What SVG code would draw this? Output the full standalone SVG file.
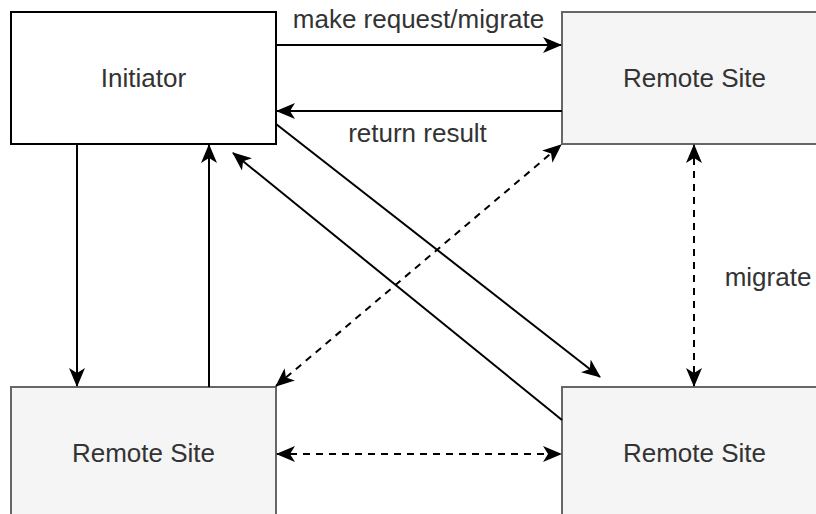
<svg xmlns="http://www.w3.org/2000/svg" width="816" height="514" viewBox="0 0 816 514">
  <style>
    .box { stroke-width: 2; }
    .init { fill: #ffffff; stroke: #000000; }
    .remote { fill: #f5f5f5; stroke: #666666; }
    .label { font-family: "Liberation Sans", Arial, sans-serif; font-size: 26px; fill: #333333; text-anchor: middle; }
    .edge { fill: none; stroke: #000000; stroke-width: 2; }
    .dash { stroke-dasharray: 7 6; }
  </style>
  <defs>
    <marker id="arrow" viewBox="0 0 19 16" refX="18" refY="8" markerWidth="19" markerHeight="16" markerUnits="userSpaceOnUse" orient="auto-start-reverse">
      <path d="M0,0 L19,8 L0,16 L5,8 Z" fill="#000000"/>
    </marker>
  </defs>

  <rect width="816" height="514" fill="#ffffff"/>

  <g id="initiator">
    <rect class="box init" x="11" y="12" width="265" height="132"/>
    <text class="label" x="143.5" y="87">Initiator</text>
  </g>
  <g id="remote-top-right">
    <rect class="box remote" x="562" y="12" width="265" height="132"/>
    <text class="label" x="694.5" y="87">Remote Site</text>
  </g>
  <g id="remote-bottom-left">
    <rect class="box remote" x="11" y="387" width="265" height="132"/>
    <text class="label" x="143.5" y="462">Remote Site</text>
  </g>
  <g id="remote-bottom-right">
    <rect class="box remote" x="562" y="387" width="265" height="132"/>
    <text class="label" x="694.5" y="462">Remote Site</text>
  </g>

  <g id="connectors">
    <!-- request / result between initiator and top-right site -->
    <line class="edge" x1="276" y1="45" x2="561" y2="45" marker-end="url(#arrow)"/>
    <line class="edge" x1="562" y1="111" x2="277" y2="111" marker-end="url(#arrow)"/>
    <!-- initiator and bottom-left site -->
    <line class="edge" x1="77" y1="144" x2="77" y2="386" marker-end="url(#arrow)"/>
    <line class="edge" x1="209" y1="387" x2="209" y2="145" marker-end="url(#arrow)"/>
    <!-- diagonals between initiator and bottom-right site -->
    <line class="edge" x1="276" y1="124" x2="600" y2="377" marker-end="url(#arrow)"/>
    <line class="edge" x1="562" y1="420" x2="233" y2="153" marker-end="url(#arrow)"/>
    <!-- migrations between remote sites -->
    <line class="edge dash" x1="276" y1="386" x2="561" y2="145" marker-start="url(#arrow)" marker-end="url(#arrow)"/>
    <line class="edge dash" x1="694" y1="145" x2="694" y2="386" marker-start="url(#arrow)" marker-end="url(#arrow)"/>
    <line class="edge dash" x1="277" y1="454" x2="561" y2="454" marker-start="url(#arrow)" marker-end="url(#arrow)"/>
    <text class="label" x="418.5" y="28">make request/migrate</text>
    <text class="label" x="417.5" y="142">return result</text>
    <text class="label" x="768" y="286">migrate</text>
  </g>
</svg>
